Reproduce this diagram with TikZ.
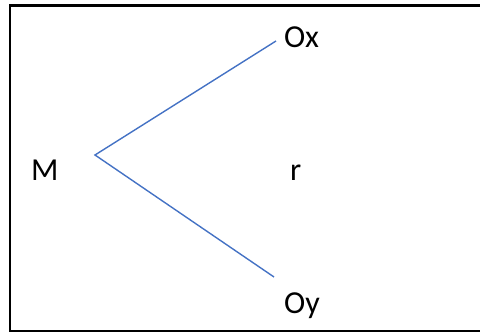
\documentclass[tikz,border=0pt]{standalone}
\usepackage{fontspec}
\setmainfont{Carlito}
\definecolor{lineblue}{HTML}{4472C4}
\begin{document}
\begin{tikzpicture}[x=1pt,y=1pt,
  lbl/.style={anchor=base west,inner sep=0pt,font=\fontsize{32}{36}\selectfont},
  conn/.style={draw=lineblue,line width=1.4pt}]
\useasboundingbox (0,0) rectangle (480,-332);
\draw[line width=2.2pt] (482,-5.5) -- (10,-5.5) -- (10,-331) -- (482,-331);
\node[lbl] (M) at (31,-180) {M};
\node[lbl] (r) at (290,-180) {r};
\node[lbl] (Ox) at (284,-47) {Ox};
\node[lbl] (Oy) at (284,-313) {Oy};
\coordinate (v) at (95,-155);
\coordinate (ex) at (276,-41);
\coordinate (ey) at (274,-277);
\draw[conn] (ex) -- (v) -- (ey);
\end{tikzpicture}
\end{document}
